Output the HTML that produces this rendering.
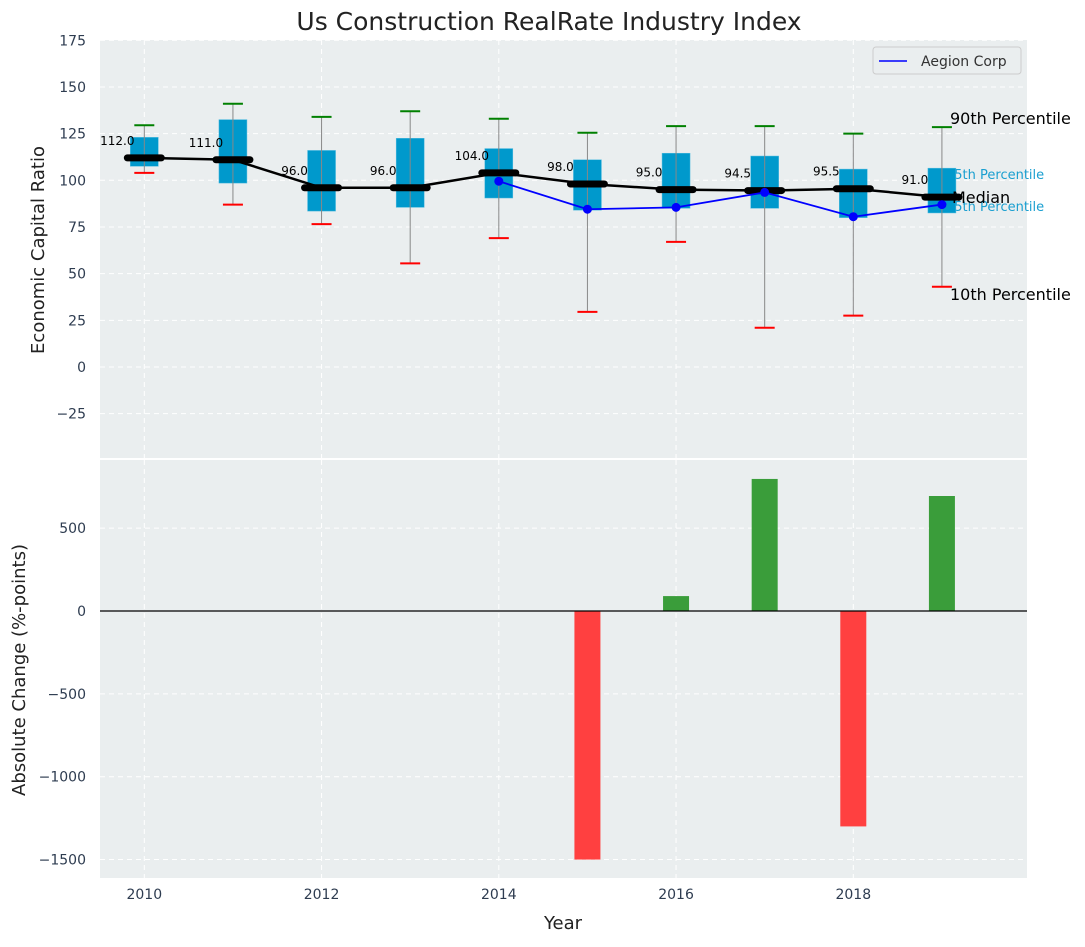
<!DOCTYPE html>
<html><head><meta charset="utf-8"><style>
body{margin:0;background:#fff;font-family:"Liberation Sans","DejaVu Sans",sans-serif}
svg text{font-family:"DejaVu Sans","Liberation Sans",sans-serif}
</style></head><body>
<svg id="c" width="1085" height="942" xmlns="http://www.w3.org/2000/svg"></svg>
<script>
const years=[2010,2011,2012,2013,2014,2015,2016,2017,2018,2019];
const q1=[107.5,98.5,83.5,85.5,90.5,84,85,85,80,82.5];
const q3=[123,132.5,116,122.5,117,111,114.5,113,106,106.5];
const p10=[104,87,76.5,55.5,69,29.5,67,21,27.5,43];
const p90=[129.5,141,134,137,133,125.5,129,129,125,128.5];
const medians=[112,111,96,96,104,98,95,94.5,95.5,91];
const aegionYears=[2014,2015,2016,2017,2018,2019];
const aegionVals=[99.5,84.5,85.5,93.5,80.5,87];
const changeYears=[2015,2016,2017,2018,2019];
const changeVals=[-1500,90,797,-1300,694];
const topTicks=[-25,0,25,50,75,100,125,150,175];
const botTicks=[-1500,-1000,-500,0,500];
const xTicks=[2010,2012,2014,2016,2018];

const NS="http://www.w3.org/2000/svg",svg=document.getElementById('c');
function el(t,a,p){const e=document.createElementNS(NS,t);for(const k in a)e.setAttribute(k,a[k]);(p||svg).appendChild(e);return e;}
const L=100,R=1027;
const X=v=>L+(v-2009.5)*(R-L)/(2019.96-2009.5);
const Y1=v=>367-v*1.867;
const Y2=v=>611-v*0.1657;
const TC='#2e3c50';
let e=el('rect',{x:L,y:40,width:R-L,height:418,fill:'#eaeeef'});

e=el('rect',{x:L,y:460,width:R-L,height:418,fill:'#eaeeef'});

xTicks.forEach(t=>{
 e=el('line',{x1:X(t),x2:X(t),y1:40,y2:458,stroke:'#fff','stroke-dasharray':'5,4'});
 
 e=el('line',{x1:X(t),x2:X(t),y1:460,y2:878,stroke:'#fff','stroke-dasharray':'5,4'});
 
 e=el('text',{x:X(t),y:899,'text-anchor':'middle','font-size':14,fill:TC});e.textContent=t;
 
});
topTicks.forEach(t=>{
 e=el('line',{x1:L,x2:R,y1:Y1(t),y2:Y1(t),stroke:'#fff','stroke-dasharray':'5,4'});
 
 e=el('text',{x:86,y:Y1(t)+5,'text-anchor':'end','font-size':14,fill:TC});e.textContent=t<0?'−'+(-t):t;
 
});
botTicks.forEach(t=>{
 e=el('line',{x1:L,x2:R,y1:Y2(t),y2:Y2(t),stroke:'#fff','stroke-dasharray':'5,4'});
 
 e=el('text',{x:86,y:Y2(t)+5,'text-anchor':'end','font-size':14,fill:TC});e.textContent=t<0?'−'+(-t):t;
 
});
[['90th Percentile',950,124,'#000',16],['10th Percentile',950,300,'#000',16],['75th Percentile',946,179,'#1a9fd0',13],['25th Percentile',946,211,'#1a9fd0',13]].forEach(a=>{
 e=el('text',{x:a[1],y:a[2],'font-size':a[4],fill:a[3]});e.textContent=a[0];
 
});
const hw=14;
years.forEach((yr,i)=>{
 const x=X(yr);
 e=el('rect',{x:x-hw,y:Y1(q3[i]),width:2*hw,height:Y1(q1[i])-Y1(q3[i]),fill:'#0099cc',stroke:'#55bde0','stroke-width':0.5});
 
 e=el('line',{x1:x,x2:x,y1:Y1(p90[i]),y2:Y1(p10[i]),stroke:'#888','stroke-width':1});
 
 e=el('line',{x1:x-10,x2:x+10,y1:Y1(p90[i]),y2:Y1(p90[i]),stroke:'green','stroke-width':2});
 
 e=el('line',{x1:x-10,x2:x+10,y1:Y1(p10[i]),y2:Y1(p10[i]),stroke:'red','stroke-width':2});
 
 e=el('text',{x:x-27,y:Y1(medians[i])-13,'text-anchor':'middle','font-size':12,fill:'#000'});e.textContent=medians[i].toFixed(1);
 
});
e=el('polyline',{points:years.map((y,i)=>X(y)+','+Y1(medians[i])).join(' '),fill:'none',stroke:'#000','stroke-width':2.5});

years.forEach((yr,i)=>{
 e=el('line',{x1:X(yr)-17,x2:X(yr)+17,y1:Y1(medians[i]),y2:Y1(medians[i]),stroke:'#000','stroke-width':7,'stroke-linecap':'round'});
 
});
e=el('polyline',{points:aegionYears.map((y,i)=>X(y)+','+Y1(aegionVals[i])).join(' '),fill:'none',stroke:'blue','stroke-width':1.8});

aegionYears.forEach((y,i)=>{
 e=el('circle',{cx:X(y),cy:Y1(aegionVals[i]),r:4.5,fill:'blue'});
 
});
e=el('text',{x:952,y:203,'font-size':16,fill:'#000'});e.textContent='Median';

const lg=el('g',{});
el('rect',{x:873,y:47,width:148,height:27,rx:3,fill:'#eaeeef',stroke:'#ccc'},lg);
el('line',{x1:879,x2:907,y1:61,y2:61,stroke:'blue','stroke-width':1.5},lg);
e=el('text',{x:921,y:66,'font-size':14,fill:'#333'},lg);e.textContent='Aegion Corp';
changeYears.forEach((y,i)=>{
 const v=changeVals[i];
 e=el('rect',{x:X(y)-13,y:Math.min(Y2(v),Y2(0)),width:26,height:Math.abs(Y2(v)-Y2(0)),fill:v>=0?'#3a9d3a':'#ff4040'});
 
});
e=el('line',{x1:L,x2:R,y1:Y2(0),y2:Y2(0),stroke:'#000','stroke-width':1.2});

e=el('text',{x:549,y:30,'text-anchor':'middle','font-size':25,fill:'#222'});e.textContent='Us Construction RealRate Industry Index';

e=el('text',{x:563,y:929,'text-anchor':'middle','font-size':18,fill:'#222'});e.textContent='Year';

e=el('text',{x:0,y:0,'text-anchor':'middle','font-size':18,fill:'#222',transform:'translate(44,250) rotate(-90)'});e.textContent='Economic Capital Ratio';

e=el('text',{x:0,y:0,'text-anchor':'middle','font-size':18,fill:'#222',transform:'translate(25,670) rotate(-90)'});e.textContent='Absolute Change (%-points)';

</script>
</body></html>
